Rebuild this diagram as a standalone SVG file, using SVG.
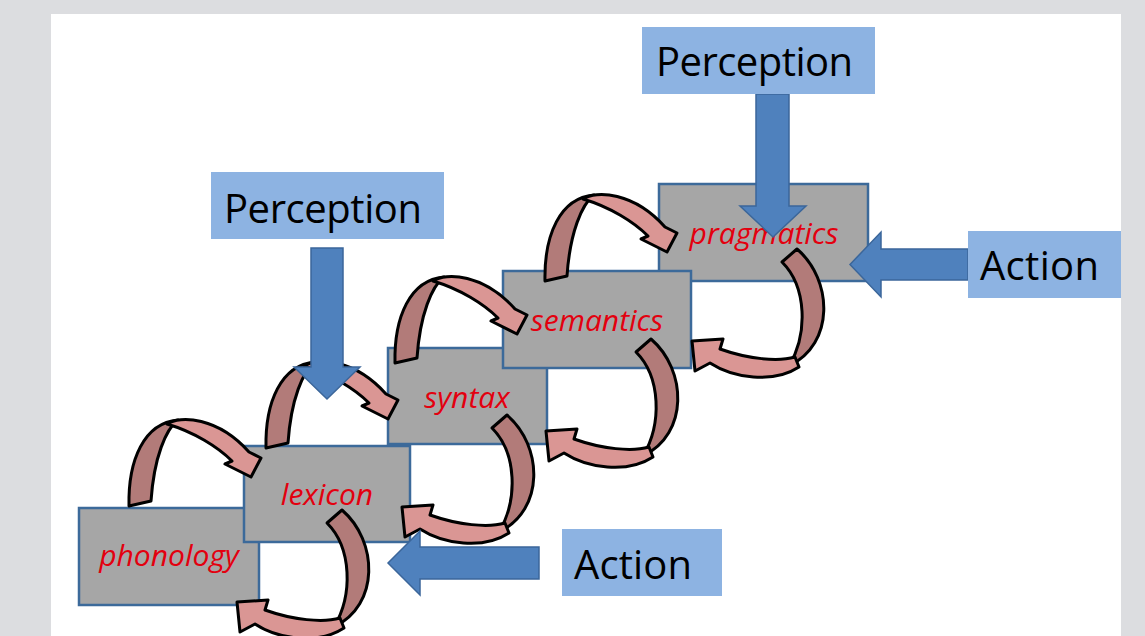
<svg xmlns="http://www.w3.org/2000/svg" xmlns:xlink="http://www.w3.org/1999/xlink" width="1145" height="636" viewBox="0 0 1145 636">
<style>
.box{fill:#a6a6a6;stroke:#3c6a9a;stroke-width:2.5}
.lbl{font-family:"Open Sans","Liberation Sans",sans-serif;font-style:italic;font-size:30px;fill:#e3000f;text-anchor:middle}
.pa{fill:#8db3e2}
.pt{font-family:"Open Sans","Liberation Sans",sans-serif;font-size:40px;fill:#000}
.blue{fill:#4f81bd;stroke:#3b669a;stroke-width:1.5;stroke-linejoin:miter}
.dk{fill:#b27b79;stroke:#000;stroke-width:3;stroke-linejoin:round}
.lt{fill:#da9694;stroke:#000;stroke-width:3;stroke-linejoin:round}
</style>
<defs>
<g id="upArrow">
<path class="dk" d="M-1,1 C-2,-45 14,-82 48,-85 C36,-76 24,-48 21,-4 Z"/>
<path class="lt" d="M37,-81 C50,-90 88,-88 119,-53 L131,-47 L121,-28 L95,-41 L102,-44 C88,-58 64,-73 37,-81 Z"/>
</g>
<g id="downArrow">
<path class="dk" d="M-1,0 L14,-13 C50,18 52,82 6,104 C25,72 24,25 -1,0 Z"/>
<path class="lt" d="M12,95 C-5,100 -35,97 -63,87 L-60,77 L-91,79 L-88,109 L-73,101 C-50,116 -10,122 16,105 Z"/>
</g>
</defs>
<rect x="0" y="0" width="1145" height="636" fill="#dcdde0"/>
<rect x="51" y="14" width="1070" height="622" fill="#ffffff"/>

<g id="phonology"><rect class="box" x="79" y="508" width="180" height="97"/><text class="lbl" x="169" y="566">phonology</text></g>
<g id="lexicon"><rect class="box" x="244" y="446" width="166" height="96"/><text class="lbl" x="327" y="505">lexicon</text></g>
<g id="syntax"><rect class="box" x="388" y="348" width="159" height="96"/><text class="lbl" x="467" y="408">syntax</text></g>
<g id="pragmatics"><rect class="box" x="659" y="184" width="209" height="97"/><text class="lbl" x="764" y="244">pragmatics</text></g>
<g id="semantics"><rect class="box" x="503" y="271" width="188" height="97"/><text class="lbl" x="597" y="331">semantics</text></g>

<g id="connectors">
<use xlink:href="#upArrow" transform="translate(130,505)"/>
<use xlink:href="#upArrow" transform="translate(267,447)"/>
<use xlink:href="#upArrow" transform="translate(396,362)"/>
<use xlink:href="#upArrow" transform="translate(546,280)"/>
<use xlink:href="#downArrow" transform="translate(783,262)"/>
<use xlink:href="#downArrow" transform="translate(637,352)"/>
<use xlink:href="#downArrow" transform="translate(493,428)"/>
<use xlink:href="#downArrow" transform="translate(328,523)"/>
<polygon class="blue" points="756,94 789,94 789,206 806,206 773,237 740,206 756,206"/>
<polygon class="blue" points="311,248 343,248 343,367 360,367 327,399 294,367 311,367"/>
<polygon class="blue" points="968,249 968,280 881,280 881,297 850,264.5 881,232 881,249"/>
<polygon class="blue" points="539,547 539,579 420,579 420,595 388,563 420,531 420,547"/>
</g>

<g id="perception-top"><rect class="pa" x="642" y="27" width="233" height="67"/><text class="pt" x="656" y="76" textLength="197">Perception</text></g>
<g id="perception-left"><rect class="pa" x="211" y="172" width="233" height="67"/><text class="pt" x="224" y="223" textLength="198">Perception</text></g>
<g id="action-right"><rect class="pa" x="968" y="231" width="153" height="67"/><text class="pt" x="980" y="280" textLength="119">Action</text></g>
<g id="action-bottom"><rect class="pa" x="562" y="529" width="160" height="67"/><text class="pt" x="574" y="579" textLength="118">Action</text></g>
</svg>
